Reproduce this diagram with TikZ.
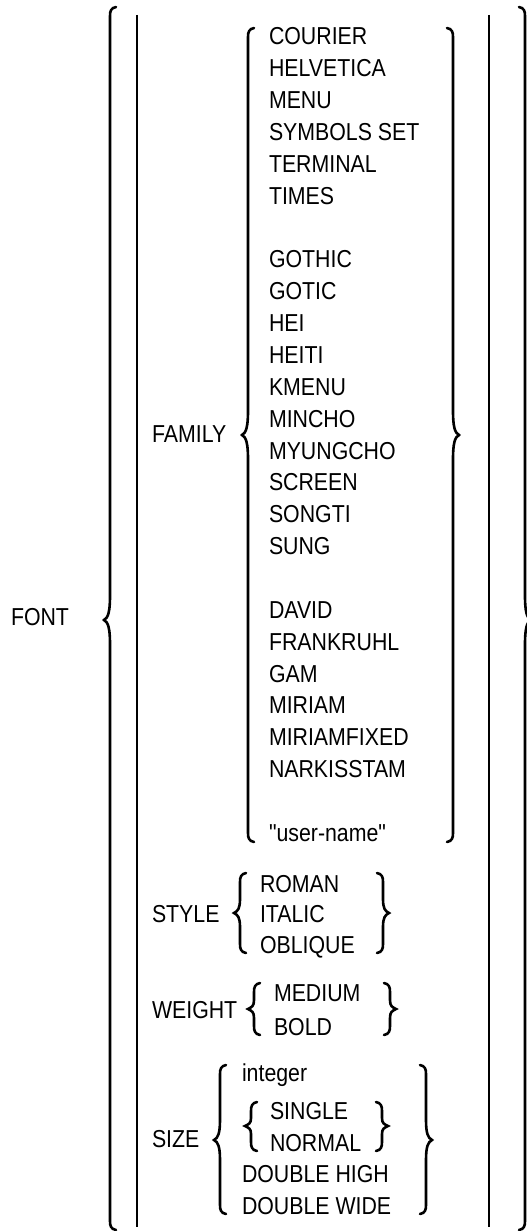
\documentclass[tikz,border=0pt]{standalone}
\usepackage{fontspec}
\setmainfont{Liberation Sans}[FakeStretch=0.87, Ligatures=TeXOff]
\tikzset{
every picture/.style={x=1pt, y=-1pt},
%%%%%%%%%%  Node styles
keyword/.style={anchor=base west, inner sep=0pt, outer sep=0pt,
                font=\fontsize{24.5}{29}\selectfont},
%%%% different line styles:
syntax_brace/.style={line width=2.6pt, line cap=round},
inner_rule/.style={line width=1.3pt},
}
%% left brace: x, top, bottom, tip, half length of the tip
\newcommand{\syntaxleft}[5]{%
  \draw[syntax_brace] (#1+6,#2) .. controls (#1+1,#2+1) and (#1,#2+4) .. (#1,#2+9)
     -- (#1,#4-#5) .. controls (#1,#4-#5/3) and (#1-2,#4-2) .. (#1-6,#4)
     .. controls (#1-2,#4+2) and (#1,#4+#5/3) .. (#1,#4+#5)
     -- (#1,#3-9) .. controls (#1,#3-4) and (#1+1,#3-1) .. (#1+6,#3);}
%% right brace, the same turned over
\newcommand{\syntaxright}[5]{%
  \draw[syntax_brace] (#1-6,#2) .. controls (#1-1,#2+1) and (#1,#2+4) .. (#1,#2+9)
     -- (#1,#4-#5) .. controls (#1,#4-#5/3) and (#1+2,#4-2) .. (#1+6,#4)
     .. controls (#1+2,#4+2) and (#1,#4+#5/3) .. (#1,#4+#5)
     -- (#1,#3-9) .. controls (#1,#3-4) and (#1-1,#3-1) .. (#1-6,#3);}

\begin{document}
\begin{tikzpicture}
\useasboundingbox (0,0) rectangle (527,1231);

%% outer braces and rules
\node[keyword] (font) at (11,625) {FONT};
\syntaxleft{110}{7}{1230}{620}{24}
\syntaxright{525}{7}{1230}{620}{24}
\draw[inner_rule] (137,15) -- (137,1227);
\draw[inner_rule] (489,15) -- (489,1227);

%% family
\node[keyword] (family) at (152,442) {FAMILY};
\syntaxleft{248}{28}{842}{435}{24}
\syntaxright{453}{28}{842}{435}{24}
\foreach \word/\slot in {COURIER/0, HELVETICA/1, MENU/2, SYMBOLS SET/3,
    TERMINAL/4, TIMES/5, GOTHIC/7, GOTIC/8, HEI/9, HEITI/10, KMENU/11,
    MINCHO/12, MYUNGCHO/13, SCREEN/14, SONGTI/15, SUNG/16, DAVID/18,
    FRANKRUHL/19, GAM/20, MIRIAM/21, MIRIAMFIXED/22, NARKISSTAM/23,
    "user-name"/25}
  \node[keyword] (fam\slot) at (269,45+31.85*\slot) {\word};

%% style
\node[keyword] (style) at (152,922) {STYLE};
\syntaxleft{240}{873}{953}{913}{14}
\syntaxright{383}{873}{953}{913}{14}
\foreach \word/\yy [count=\i] in {ROMAN/892, ITALIC/922, OBLIQUE/953}
  \node[keyword] (style\i) at (260,\yy) {\word};

%% weight
\node[keyword] (weight) at (152,1018) {WEIGHT};
\syntaxleft{254}{983}{1035}{1009}{9}
\syntaxright{390}{983}{1035}{1009}{9}
\node[keyword] (medium) at (274,1001) {MEDIUM};
\node[keyword] (bold) at (274,1035) {BOLD};

%% size
\node[keyword] (size) at (152,1147) {SIZE};
\syntaxleft{220}{1065}{1214}{1140}{20}
\syntaxright{426}{1065}{1214}{1140}{20}
\node[keyword] (integer) at (242,1081) {integer};
\syntaxleft{251}{1102}{1151}{1126}{8}
\syntaxright{382}{1102}{1151}{1126}{8}
\node[keyword] (single) at (270,1119) {SINGLE};
\node[keyword] (normal) at (270,1151) {NORMAL};
\node[keyword] (dblhigh) at (242,1182) {DOUBLE HIGH};
\node[keyword] (dblwide) at (242,1214) {DOUBLE WIDE};

\end{tikzpicture}
\end{document}
